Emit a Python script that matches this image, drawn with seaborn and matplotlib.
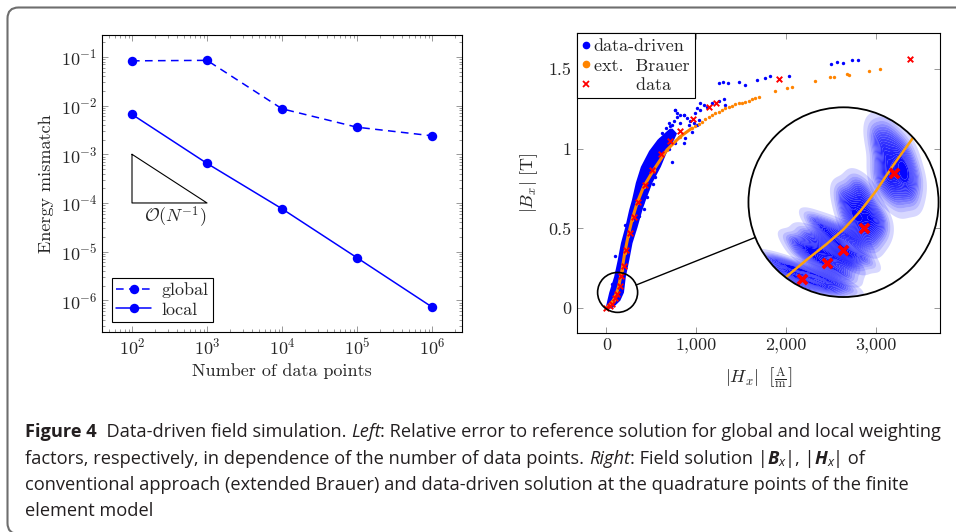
import matplotlib
matplotlib.use("Agg")
import matplotlib.pyplot as plt
import seaborn as sns
import pandas as pd
import numpy as np
from matplotlib.patches import Circle, Ellipse, FancyBboxPatch
from matplotlib.lines import Line2D
from matplotlib.transforms import IdentityTransform
from matplotlib.colors import LinearSegmentedColormap
from matplotlib import font_manager, ticker

# -----------------------------
# Left panel: energy mismatch vs. number of data points
# -----------------------------
n_points = [1e2, 1e3, 1e4, 1e5, 1e6]
err_global = [8.3e-2, 8.5e-2, 8.6e-3, 3.6e-3, 2.4e-3]
err_local = [6.6e-3, 6.5e-4, 7.6e-5, 7.5e-6, 7.3e-7]
tri_x = [1e2, 1e2, 1e3, 1e2]
tri_y = [1e-3, 1e-4, 1e-4, 1e-3]

# -----------------------------
# Right panel: B-H field solution
# -----------------------------
# measured data (red crosses)
meas_H = [0, 40, 68, 99, 119, 146, 166, 193, 223, 264, 309, 357, 427, 509,
          605, 713, 814, 959, 1145, 1215, 1921, 3381]
meas_B = [0, 0.012, 0.026, 0.061, 0.091, 0.141, 0.199, 0.265, 0.366, 0.471,
          0.571, 0.667, 0.772, 0.868, 0.969, 1.048, 1.113, 1.19, 1.265, 1.29,
          1.437, 1.565]

# extended Brauer curve evaluated at quadrature points (orange)
brauer_H = [0, 40, 81, 110, 137, 174, 204, 241, 285, 341, 415, 526, 674, 822,
            952, 989, 1026, 1063, 1100, 1137, 1174, 1211, 1248, 1285, 1322,
            1359, 1396, 1433, 1470, 1507, 1544, 1581, 1619, 1656, 1693, 1878,
            2007, 2063, 2322, 2489, 2526, 2674, 2693, 2915, 3044]
brauer_B = [0, 0.02, 0.052, 0.09, 0.136, 0.24, 0.345, 0.45, 0.554, 0.659,
            0.763, 0.868, 0.994, 1.077, 1.130, 1.144, 1.157, 1.171, 1.186,
            1.199, 1.213, 1.224, 1.234, 1.245, 1.255, 1.266, 1.272, 1.281,
            1.287, 1.291, 1.297, 1.303, 1.312, 1.318, 1.325, 1.364, 1.385,
            1.391, 1.429, 1.45, 1.454, 1.469, 1.465, 1.49, 1.50]

# dense data-driven cloud: outline of the band (left / right edge per B level)
band_B = [0.0, 0.05, 0.10, 0.20, 0.30, 0.41, 0.51, 0.62, 0.68, 0.79, 0.89,
          0.99, 1.06, 1.10, 1.13]
band_left = [-15, 5, 26, 81, 119, 156, 204, 248, 278, 322, 378, 470, 563, 640, 700]
band_right = [60, 150, 190, 211, 248, 285, 341, 396, 433, 507, 600, 674, 748, 780, 730]

# loose data-driven points
dd_H = [2497, 2563, 2630, 2730, 2803,
        1248, 1296, 1348, 1470, 1544, 1674, 1767, 1822, 2026,
        1044, 1081, 1119, 1174, 1248, 1303, 1322, 1008, 1044, 767, 785, 859,
        748, 730, 711, 933, 970, 1008, 896, 822,
        767, 859, 989, 1026, 915, 952, 803, 730, 656, 767, 859, 878, 822, 785,
        100, 60, 230, 420, 450, 540, 600, 700, 620, 660, 700, 600,
        250, 300, 360, 395, 455, 520, 210, 180]
dd_B = [1.534, 1.548, 1.542, 1.559, 1.559,
        1.416, 1.423, 1.412, 1.423, 1.402, 1.433, 1.444, 1.458, 1.458,
        1.291, 1.276, 1.266, 1.288, 1.298, 1.313, 1.276, 1.256, 1.246, 1.246,
        1.225, 1.215, 1.173, 1.152, 1.141, 1.173, 1.162, 1.152, 1.194, 1.162,
        1.245, 1.213, 1.224, 1.182, 1.151, 1.109, 1.077, 0.92, 0.994, 1.036,
        1.036, 1.067, 1.213, 1.203,
        0.324, 0.15, 0.45, 0.62, 0.70, 0.82, 0.95, 1.0, 1.10, 1.13, 1.16, 1.06,
        0.56, 0.62, 0.58, 0.66, 0.74, 0.78, 0.52, 0.38]

# zoomed view (inset) of the region near the origin
zoom_meas_H = [67.9, 99.1, 119.1, 145.8, 183.7]
zoom_meas_B = [0.0255, 0.061, 0.091, 0.141, 0.266]
zoom_brauer_H = [30, 49.1, 74.1, 99.1, 120, 140.8, 161.6, 182.5, 205.4, 215]
zoom_brauer_B = [0.005, 0.031, 0.069, 0.105, 0.138, 0.179, 0.228, 0.285, 0.343, 0.37]

cloud1_H = [32.5, 45, 57.5, 70, 82.5, 95, 107.5, 40.8, 53.3, 65.8, 78.3, 90.8, 103.3, 74.1, 49.1, 115.8]
cloud1_B = [0.069, 0.061, 0.054, 0.046, 0.038, 0.031, 0.019, 0.046, 0.038, 0.023, 0.016, 0.008, 0.0, -0.003, 0.023, 0.008]
cloud2_H = [61.6, 74.1, 86.6, 99.1, 111.6, 124.1, 70, 82.5, 95, 107.5, 120, 90.8, 78.3]
cloud2_B = [0.107, 0.099, 0.091, 0.084, 0.076, 0.061, 0.080, 0.069, 0.057, 0.046, 0.038, 0.114, 0.122]
cloud3_H = [86.6, 99.1, 111.6, 124.1, 136.6, 95, 107.5, 120, 132.5, 145, 115.8, 128.3]
cloud3_B = [0.152, 0.144, 0.137, 0.129, 0.114, 0.129, 0.114, 0.099, 0.084, 0.076, 0.084, 0.069]
cloud4_H = [120, 132.5, 145, 157.5, 124.1, 136.6, 149.1, 161.6, 128.3, 140.8, 153.3, 165.8, 136.6, 149.1]
cloud4_B = [0.213, 0.205, 0.190, 0.175, 0.182, 0.167, 0.152, 0.137, 0.152, 0.129, 0.114, 0.160, 0.235, 0.220]
cloud5_H = [161.6, 174.1, 186.6, 165.8, 178.3, 190.8, 199.1, 170, 182.5, 195, 203.3, 174.1, 186.6, 165.8, 199.1, 207.5]
cloud5_B = [0.349, 0.357, 0.334, 0.319, 0.304, 0.288, 0.273, 0.281, 0.258, 0.243, 0.220, 0.235, 0.213, 0.251, 0.311, 0.258]

ORANGE = "#ff8400"
FS = 13

# -----------------------------
# Style
# -----------------------------
sns.set_style("ticks")
plt.rcParams.update({
    "font.family": "serif",
    "font.serif": ["cmr10"],
    "mathtext.fontset": "cm",
    "axes.formatter.use_mathtext": True,
    "font.size": FS,
    "axes.linewidth": 0.8,
    "axes.edgecolor": "black",
})

W, H = 956, 532
fig = plt.figure(figsize=(W / 100, H / 100), dpi=100)


def box(l, t, r, b):
    return [l / W, 1 - b / H, (r - l) / W, (b - t) / H]


ax1 = fig.add_axes(box(102, 35, 462, 332))
ax2 = fig.add_axes(box(576.7, 33.3, 940, 333))

# -----------------------------
# Left panel
# -----------------------------
ax1.set_xscale("log")
ax1.set_yscale("log")
df = pd.DataFrame({"N": n_points, "global": err_global, "local": err_local})
sns.lineplot(data=df, x="N", y="global", ax=ax1, color="blue", marker="o",
             markersize=6.8, markeredgewidth=0, linewidth=1.1,
             linestyle=(0, (5, 3.5)), label="global")
sns.lineplot(data=df, x="N", y="local", ax=ax1, color="blue", marker="o",
             markersize=6.8, markeredgewidth=0, linewidth=1.1, label="local")
ax1.plot(tri_x, tri_y, color="black", lw=0.8)
ax1.text(10 ** 2.58, 10 ** -4.3, r"$\mathcal{O}(N^{-1})$", ha="center",
         va="center", fontsize=FS)

ax1.set_xlim(10 ** 1.6, 10 ** 6.4)
ax1.set_ylim(10 ** -6.65, 10 ** -0.55)
ax1.xaxis.set_major_locator(ticker.LogLocator(base=10, numticks=10))
ax1.xaxis.set_minor_locator(ticker.LogLocator(base=10, subs=np.arange(2, 10), numticks=10))
ax1.yaxis.set_major_locator(ticker.LogLocator(base=10, numticks=10))
ax1.yaxis.set_minor_locator(ticker.LogLocator(base=10, subs=np.arange(2, 10), numticks=10))
ax1.xaxis.set_minor_formatter(ticker.NullFormatter())
ax1.yaxis.set_minor_formatter(ticker.NullFormatter())
ax1.set_xlabel("Number of data points", fontsize=FS, labelpad=4)
ax1.set_ylabel("Energy mismatch", fontsize=FS, labelpad=5)

leg1 = ax1.legend(loc="lower left", borderaxespad=0.55, fancybox=False,
                  edgecolor="black", framealpha=1, fontsize=FS,
                  handlelength=1.9, borderpad=0.25, labelspacing=0.2,
                  handletextpad=0.6)
leg1.get_frame().set_linewidth(0.8)

# -----------------------------
# Right panel
# -----------------------------
ax2.fill_betweenx(band_B, band_left, band_right, color="blue", lw=0, zorder=2)
sns.scatterplot(x=dd_H, y=dd_B, ax=ax2, color="blue", s=6, linewidth=0, zorder=3)
ax2.plot(brauer_H[:15], brauer_B[:15], color=ORANGE, lw=2.2,
         solid_capstyle="round", zorder=4)
sns.scatterplot(x=brauer_H, y=brauer_B, ax=ax2, color=ORANGE, s=6,
                linewidth=0, zorder=4)
sns.scatterplot(x=meas_H, y=meas_B, ax=ax2, color="red", marker="x", s=16,
                linewidth=1.4, zorder=5)

ax2.set_xlim(-330, 3710)
ax2.set_ylim(-0.157, 1.726)
ax2.set_xticks([0, 1000, 2000, 3000])
ax2.set_xticklabels(["0", "1,000", "2,000", "3,000"])
ax2.set_yticks([0, 0.5, 1, 1.5])
ax2.set_yticklabels(["0", "0.5", "1", "1.5"])
ax2.set_xlabel(r"$|H_x|\ \ \left[\frac{\mathrm{A}}{\mathrm{m}}\right]$",
               fontsize=FS, labelpad=9)
ax2.set_ylabel(r"$|B_x|\ [\mathrm{T}]$", fontsize=FS, labelpad=6)

handles = [Line2D([], [], ls="", marker="o", color="blue", markersize=4.5),
           Line2D([], [], ls="", marker="o", color=ORANGE, markersize=4.5),
           Line2D([], [], ls="", marker="x", color="red", markersize=4.5,
                  markeredgewidth=1.3)]
leg2 = ax2.legend(handles, ["data-driven", "ext.  Brauer", "       data"],
                  loc="upper left", borderaxespad=0, fancybox=False,
                  edgecolor="black", framealpha=1, fontsize=FS,
                  handlelength=0.4, handletextpad=0.25, borderpad=0.3,
                  labelspacing=0.2)
leg2.get_frame().set_linewidth(0.8)
leg2.set_zorder(10)

for ax in (ax1, ax2):
    ax.tick_params(which="both", direction="in", top=True, right=True,
                   color="#888888", labelsize=FS, width=0.6)
    ax.tick_params(which="major", length=4)
    ax.tick_params(which="minor", length=2.5)
    ax.xaxis.offsetText.set_visible(False)
    ax.yaxis.offsetText.set_visible(False)

# small circle around the origin and the magnified inset
small_c = (125, 0.098)
small_w, small_h = 445, 0.251
ax2.add_patch(Ellipse(small_c, small_w, small_h, fill=False,
                      edgecolor="black", lw=1.2, zorder=6))

big_c = (2637, 0.665)
big_rw, big_rh = 1057, 0.596
ins = ax2.inset_axes([big_c[0] - big_rw, big_c[1] - big_rh, 2 * big_rw, 2 * big_rh],
                     transform=ax2.transData, zorder=7)
ins.patch.set_visible(False)
bg = Circle((0.5, 0.5), 0.5, transform=ins.transAxes, facecolor="white",
            edgecolor="none", zorder=0)
ins.add_patch(bg)
cloud_cmap = LinearSegmentedColormap.from_list(
    "cloud", [(0, 0, 1, 0.10), (0, 0, 1, 0.65), (0, 0, 1, 1.0)])
for cx, cy in [(cloud1_H, cloud1_B), (cloud2_H, cloud2_B), (cloud3_H, cloud3_B),
               (cloud4_H, cloud4_B), (cloud5_H, cloud5_B)]:
    sns.kdeplot(x=cx, y=cy, ax=ins, fill=True, cmap=cloud_cmap, levels=20,
                thresh=0.03, bw_adjust=1.0, zorder=1, antialiased=True)
ins.plot(zoom_brauer_H, zoom_brauer_B, color="#ffa20a", lw=1.8, zorder=2)
sns.scatterplot(x=zoom_meas_H, y=zoom_meas_B, ax=ins, color="red", marker="x",
                s=45, linewidth=2.6, zorder=3)
for art in ins.collections + ins.lines:
    art.set_clip_path(bg)
ins.add_patch(Circle((0.5, 0.5), 0.5, transform=ins.transAxes, fill=False,
                     edgecolor="black", lw=1.3, zorder=5, clip_on=False))
ins.set_xlim(1.25, 238.75)
ins.set_ylim(-0.016, 0.416)
ins.axis("off")

# line joining the two circles
T = ax2.transData
p_s = T.transform(small_c)
p_b = T.transform(big_c)
r_s = T.transform((small_c[0] + small_w / 2, small_c[1]))[0] - p_s[0]
r_b = T.transform((big_c[0] + big_rw, big_c[1]))[0] - p_b[0]
u = (p_b - p_s) / np.hypot(*(p_b - p_s))
q1 = T.inverted().transform(p_s + u * r_s)
q2 = T.inverted().transform(p_b - u * r_b)
ax2.plot([q1[0], q2[0]], [q1[1], q2[1]], color="black", lw=1.0, zorder=6)

# -----------------------------
# Frame and caption
# -----------------------------
fig.add_artist(FancyBboxPatch((7.5, -2), 1000, 526.5,
                              boxstyle="round,pad=0,rounding_size=11",
                              transform=IdentityTransform(), fill=False,
                              edgecolor="#6e6e6e", lw=1.5))

names = {f.name for f in font_manager.fontManager.ttflist}
cap_font = "Liberation Sans Narrow" if "Liberation Sans Narrow" in names else "Open Sans"
CAP = "#231f20"
renderer = fig.canvas.get_renderer()


def advance(txt, size, **kw):
    t1 = fig.text(0, 0, txt + "x", fontsize=size, family=cap_font, **kw)
    t2 = fig.text(0, 0, "x", fontsize=size, family=cap_font, **kw)
    w = t1.get_window_extent(renderer).width - t2.get_window_extent(renderer).width
    t1.remove()
    t2.remove()
    return w


def draw_line(y_px, runs, size, draw=True):
    x = 25
    for txt, kw, scale, dy in runs:
        s = size * scale
        if draw:
            fig.text(x / W, 1 - (y_px + dy) / H, txt, fontsize=s, family=cap_font,
                     color=CAP, ha="left", va="baseline", **kw)
        x += advance(txt, s, **kw)
    return x - 25


N = {}
B = {"weight": "bold"}
I = {"style": "italic"}
BI = {"weight": "bold", "style": "italic"}
lines = [
    [("Figure 4", B, 1, 0), ("  Data-driven field simulation. ", N, 1, 0),
     ("Left", I, 1, 0),
     (": Relative error to reference solution for global and local weighting", N, 1, 0)],
    [("factors, respectively, in dependence of the number of data points. ", N, 1, 0),
     ("Right", I, 1, 0), (": Field solution |", N, 1, 0), ("B", BI, 1, 0),
     ("x", I, 0.7, 3), ("|, |", N, 1, 0), ("H", BI, 1, 0), ("x", I, 0.7, 3),
     ("| of", N, 1, 0)],
    [("conventional approach (extended Brauer) and data-driven solution at the quadrature points of the finite", N, 1, 0)],
    [("element model", N, 1, 0)],
]
w0 = draw_line(0, lines[0], 12, draw=False)
cap_size = 12 * 912 / w0
for yb, runs in zip([437, 463.5, 490, 516], lines):
    draw_line(yb, runs, cap_size)

fig.savefig("out.png", dpi=100)
